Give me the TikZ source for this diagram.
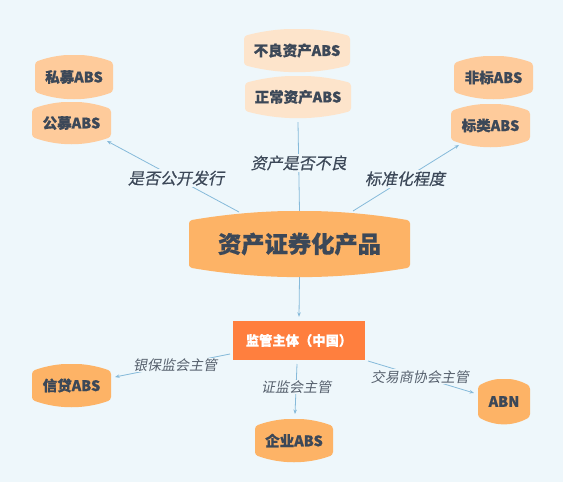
\documentclass[tikz,border=0pt]{standalone}
\usepackage{fontspec}
\setmainfont{Noto Sans CJK SC}[BoldFeatures={FakeBold=0.6}]
\newfontfamily\labfont{Noto Sans CJK SC}[FakeSlant=0.2]
\newfontfamily\biglabfont{Noto Sans CJK SC}[FakeSlant=0.2,FakeBold=0.4]
\usetikzlibrary{arrows.meta,calc}
\definecolor{bg}{HTML}{EEF7FB}
\definecolor{orangeA}{HTML}{FDB366}
\definecolor{orangeB}{HTML}{FECB9B}
\definecolor{peach}{HTML}{FDE4CB}
\definecolor{deep}{HTML}{FF7F3E}
\definecolor{txt}{HTML}{3C4858}
\definecolor{ltxt}{HTML}{56606D}
\definecolor{conn}{HTML}{86BADA}
\tikzset{
  blob/.style 2 args={inner sep=0pt, text=txt,
    font=\bfseries\fontsize{14.5}{17}\selectfont,
    path picture={\fill[#1,rounded corners=3pt]
      let \p1=(path picture bounding box.south west),
          \p2=(path picture bounding box.north east) in
      (\x1,{\y1+#2}) -- (\x1,{\y2-#2})
      .. controls ({\x1+(\x2-\x1)/3},{\y2+#2/3}) and ({\x2-(\x2-\x1)/3},{\y2+#2/3}) .. (\x2,{\y2-#2})
      -- (\x2,{\y1+#2})
      .. controls ({\x2-(\x2-\x1)/3},{\y1-#2/3}) and ({\x1+(\x2-\x1)/3},{\y1-#2/3}) .. cycle;}},
  connline/.style={draw=conn, line width=0.8pt},
  arr/.style={-{Stealth[length=4.5pt,width=3.5pt]}},
  biglab/.style={fill=bg, inner sep=1.5pt, text=txt, font=\biglabfont\fontsize{16}{18}\selectfont},
  smalllab/.style={fill=bg, inner sep=1pt, text=ltxt, font=\labfont\fontsize{14}{16}\selectfont},
}
\begin{document}
\begin{tikzpicture}[x=1pt,y=-1pt]
\fill[bg] (0,0) rectangle (563,482);
\useasboundingbox (0,0) rectangle (563,482);
% central
\node[blob={orangeA}{9.5pt}, minimum width=221pt, minimum height=66pt,
      font=\bfseries\fontsize{23.3}{27}\selectfont] (central) at (299.5,244) {资产证券化产品};
% top
\node[blob={orangeB}{7pt}, minimum width=78pt, minimum height=44pt] (simu) at (74,77) {私募ABS};
\node[blob={orangeB}{7pt}, minimum width=79pt, minimum height=42pt] (gongmu) at (71.5,123) {公募ABS};
\node[blob={peach}{7pt}, minimum width=106pt, minimum height=43pt] (buliang) at (297,50.5) {不良资产ABS};
\node[blob={peach}{7pt}, minimum width=106pt, minimum height=42pt] (zhengchang) at (298,97) {正常资产ABS};
\node[blob={orangeB}{7pt}, minimum width=79pt, minimum height=43pt] (feibiao) at (493.5,77.5) {非标ABS};
\node[blob={orangeB}{7pt}, minimum width=79pt, minimum height=43pt] (biaolei) at (490.5,125.5) {标类ABS};
% regulator
\node[fill=deep, text=white, inner sep=0pt, minimum width=132pt, minimum height=39pt,
      font=\bfseries\fontsize{13.3}{16}\selectfont] (jianguan) at (299,340.5) {监管主体（中国）};
% bottom
\node[blob={orangeA}{7pt}, minimum width=79pt, minimum height=43pt] (xindai) at (71.5,385.5) {信贷ABS};
\node[blob={orangeA}{7pt}, minimum width=78pt, minimum height=43pt] (qiye) at (294,440.5) {企业ABS};
\node[blob={orangeA}{7pt}, minimum width=52pt, minimum height=45pt] (abn) at (504,401.5) {ABN};
% connectors
\draw[connline,arr] ($(central)+(-60.5,-32)$) -- node[biglab,pos=0.477]{是否公开发行} ($(gongmu)+(35.5,18)$);
\draw[connline] (central.north) -- node[biglab,pos=0.54]{资产是否不良} ($(zhengchang.south)+(0,4)$);
\draw[connline,arr] ($(central)+(53.5,-33)$) -- node[biglab,pos=0.49]{标准化程度} ($(biaolei)+(-31.5,19.5)$);
\draw[connline,arr] (central.south) -- ($(jianguan.north)+(0,-4)$);
\draw[connline,arr] ($(jianguan)+(-69,13.5)$) -- node[smalllab,pos=0.478]{银保监会主管} ($(xindai)+(43.5,-8.5)$);
\draw[connline,arr] ($(jianguan)+(-2,23.5)$) -- node[smalllab,pos=0.46]{证监会主管} ($(qiye)+(1,-26.5)$);
\draw[connline,arr] ($(jianguan)+(69,20.5)$) -- node[smalllab,pos=0.49]{交易商协会主管} ($(abn)+(-30,-8.5)$);
\end{tikzpicture}
\end{document}
